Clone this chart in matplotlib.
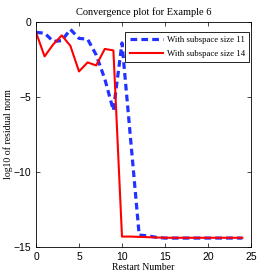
import matplotlib
matplotlib.use("Agg")
from matplotlib import pyplot as plt

restarts = list(range(25))
res_11 = [-0.7, -0.75, -1.3, -1.25, -0.5, -1.1, -1.15, -2.2, -3.8, -5.9,
          -1.4, -7.8, -14.2, -14.25, -14.35, -14.4, -14.4, -14.4, -14.4, -14.4,
          -14.4, -14.4, -14.4, -14.4, -14.4]
res_14 = [-0.7, -2.3, -1.5, -0.9, -1.6, -3.3, -2.7, -2.9, -1.8, -1.9,
          -14.3, -14.3, -14.32, -14.34, -14.36, -14.38, -14.38, -14.38, -14.38, -14.38,
          -14.38, -14.38, -14.38, -14.38, -14.38]

fig = plt.figure(figsize=(2.77, 2.77), dpi=100)
ax = fig.add_axes([0.130, 0.108, 0.776, 0.813])

ax.plot(restarts, res_11, color='#2233ff', linestyle='--', linewidth=2.3,
        dashes=(2.1, 1.3), label='With subspace size 11')
ax.plot(restarts, res_14, color='red', linewidth=1.5, label='With subspace size 14')

ax.set_xlim(0, 25)
ax.set_ylim(-15, 0)
ax.set_xticks([0, 5, 10, 15, 20, 25])
ax.set_yticks([0, -5, -10, -15])
ax.tick_params(direction='in', top=True, right=True, labelsize=7.5, length=3, width=0.5)
for lab in ax.get_xticklabels() + ax.get_yticklabels():
    lab.set_family('Liberation Sans')
for s in ax.spines.values():
    s.set_linewidth(0.6)

ax.set_title('Convergence plot for Example 6', fontsize=7.5, family='Liberation Serif', pad=5)
ax.set_xlabel('Restart Number', fontsize=7, family='Liberation Serif', labelpad=1)
ax.set_ylabel('log10 of residual norm', fontsize=7, family='Liberation Serif')
ax.yaxis.set_label_coords(-0.105, 0.5)

leg = ax.legend(loc='upper right', bbox_to_anchor=(0.991, 0.956), borderaxespad=0,
                prop={'family': 'Liberation Serif', 'size': 6.3},
                fancybox=False, edgecolor='black', framealpha=1, handlelength=3.8,
                handletextpad=0.4, borderpad=0.5, labelspacing=0.6)
leg.get_frame().set_linewidth(0.6)

fig.savefig('out.png', dpi=100)
